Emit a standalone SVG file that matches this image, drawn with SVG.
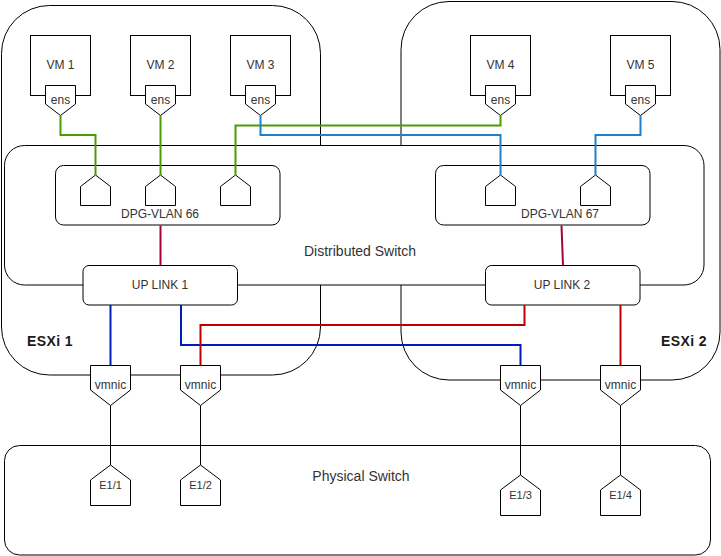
<svg xmlns="http://www.w3.org/2000/svg" width="721" height="556" viewBox="0 0 721 556">
<style>
.box{fill:#fff;stroke:#000;stroke-width:1}
.host{fill:none;stroke:#000;stroke-width:1}
text{font-family:"Liberation Sans",Arial,sans-serif;fill:#333;text-anchor:middle}
.t12{font-size:12px}
.t11{font-size:11px}
.t14{font-size:14px}
.bold{font-weight:bold;font-size:14px;fill:#1a1a1a;text-anchor:start;letter-spacing:0.4px}
.c{fill:none;stroke-width:2}
.green{stroke:#4D9900}
.lblue{stroke:#1E7FCB}
.dblue{stroke:#001DBC}
.red{stroke:#C00000}
.crim{stroke:#A50040}
.blk{fill:none;stroke:#000;stroke-width:1}
</style>
<rect width="721" height="556" fill="#fff"/>
<g id="esxi1"><rect class="host" x="1.5" y="5.5" width="319" height="369.5" rx="48"/><text class="bold" x="27" y="346">ESXi 1</text></g>
<g id="esxi2"><rect class="host" x="401" y="1.5" width="319" height="378.5" rx="48"/><text class="bold" x="661" y="346">ESXi 2</text></g>
<g id="dswitch"><rect class="box" x="4.5" y="145.5" width="699.5" height="139.5" rx="20"/><text class="t14" x="360" y="255.5">Distributed Switch</text></g>
<g id="pswitch"><rect class="box" x="4.5" y="445.5" width="706" height="109.5" rx="15"/><text class="t14" x="361" y="481">Physical Switch</text></g>
<g id="dpg66"><rect class="box" x="55.5" y="165.5" width="224.5" height="59.5" rx="8"/><text class="t12" x="160" y="218">DPG-VLAN 66</text></g>
<g id="dpg67"><rect class="box" x="435.5" y="165.5" width="214.5" height="59.5" rx="8"/><text class="t12" x="560" y="218">DPG-VLAN 67</text></g>
<g id="uplink1"><rect class="box" x="83" y="265.5" width="154.5" height="39.5" rx="6"/><text class="t12" x="160" y="289">UP LINK 1</text></g>
<g id="uplink2"><rect class="box" x="485.5" y="265.5" width="154.5" height="39.5" rx="6"/><text class="t12" x="562" y="289">UP LINK 2</text></g>
<g id="vm1"><rect class="box" x="30.5" y="35.5" width="60" height="60"/><text class="t12" x="60.5" y="69">VM 1</text></g>
<g id="vm2"><rect class="box" x="130.5" y="35.5" width="60" height="60"/><text class="t12" x="160.5" y="69">VM 2</text></g>
<g id="vm3"><rect class="box" x="230.5" y="35.5" width="60" height="60"/><text class="t12" x="260.5" y="69">VM 3</text></g>
<g id="vm4"><rect class="box" x="470.5" y="35.5" width="60" height="60"/><text class="t12" x="500.5" y="69">VM 4</text></g>
<g id="vm5"><rect class="box" x="610.5" y="35.5" width="60" height="60"/><text class="t12" x="640.5" y="69">VM 5</text></g>
<g id="ens1"><path class="box" d="M45.5,85.5H75.5V104L60.5,115.5L45.5,104Z"/><text class="t12" x="60.5" y="104">ens</text></g>
<g id="ens2"><path class="box" d="M145.5,85.5H175.5V104L160.5,115.5L145.5,104Z"/><text class="t12" x="160.5" y="104">ens</text></g>
<g id="ens3"><path class="box" d="M245.5,85.5H275.5V104L260.5,115.5L245.5,104Z"/><text class="t12" x="260.5" y="104">ens</text></g>
<g id="ens4"><path class="box" d="M485.5,85.5H515.5V104L500.5,115.5L485.5,104Z"/><text class="t12" x="500.5" y="104">ens</text></g>
<g id="ens5"><path class="box" d="M625.5,85.5H655.5V104L640.5,115.5L625.5,104Z"/><text class="t12" x="640.5" y="104">ens</text></g>
<g id="port1"><path class="box" d="M80.5,205.5V186.5L95.5,175L110.5,186.5V205.5Z"/></g>
<g id="port2"><path class="box" d="M145.5,205.5V186.5L160.5,175L175.5,186.5V205.5Z"/></g>
<g id="port3"><path class="box" d="M220.5,205.5V186.5L235.5,175L250.5,186.5V205.5Z"/></g>
<g id="port4"><path class="box" d="M485.5,205.5V186.5L500.5,175L515.5,186.5V205.5Z"/></g>
<g id="port5"><path class="box" d="M580.5,205.5V186.5L595.5,175L610.5,186.5V205.5Z"/></g>
<g id="vmnic1"><path class="box" d="M90.5,365.5H130.5V390L110.5,405.5L90.5,390Z"/><text class="t12" x="110.5" y="389">vmnic</text></g>
<g id="vmnic2"><path class="box" d="M180.5,365.5H220.5V390L200.5,405.5L180.5,390Z"/><text class="t12" x="200.5" y="389">vmnic</text></g>
<g id="vmnic3"><path class="box" d="M500.5,365.5H540.5V390L520.5,405.5L500.5,390Z"/><text class="t12" x="520.5" y="389">vmnic</text></g>
<g id="vmnic4"><path class="box" d="M600.5,365.5H640.5V390L620.5,405.5L600.5,390Z"/><text class="t12" x="620.5" y="389">vmnic</text></g>
<g id="e11"><path class="box" d="M90.5,505.5V480L110.5,465L130.5,480V505.5Z"/><text class="t11" x="110.5" y="489">E1/1</text></g>
<g id="e12"><path class="box" d="M180.5,505.5V480L200.5,465L220.5,480V505.5Z"/><text class="t11" x="200.5" y="489">E1/2</text></g>
<g id="e13"><path class="box" d="M500.5,515.5V490L520.5,475L540.5,490V515.5Z"/><text class="t11" x="520.5" y="499">E1/3</text></g>
<g id="e14"><path class="box" d="M600.5,515.5V490L620.5,475L640.5,490V515.5Z"/><text class="t11" x="620.5" y="499">E1/4</text></g>
<g id="connectors">
<path class="c crim" d="M160.5,225.5V265"/>
<path class="c crim" d="M561.5,225.5L563,265"/>
<path class="c green" d="M60.5,115.5V135H95.5V175"/>
<path class="c green" d="M160.5,115.5V175"/>
<path class="c green" d="M500.5,115.5V125.5H235.5V175"/>
<path class="c lblue" d="M260.5,115.5V135H500.5V175"/>
<path class="c lblue" d="M640.5,115.5V135H595.5V175"/>
<path class="c dblue" d="M110.5,305V365.5"/>
<path class="c dblue" d="M181,305V345H520.5V365.5"/>
<path class="c red" d="M524.5,305V325H200.5V365.5"/>
<path class="c red" d="M620.5,305V365.5"/>
<path class="blk" d="M110.5,405.5V465"/>
<path class="blk" d="M200.5,405.5V465"/>
<path class="blk" d="M520.5,405.5V475"/>
<path class="blk" d="M620.5,405.5V475"/>
</g>
</svg>
